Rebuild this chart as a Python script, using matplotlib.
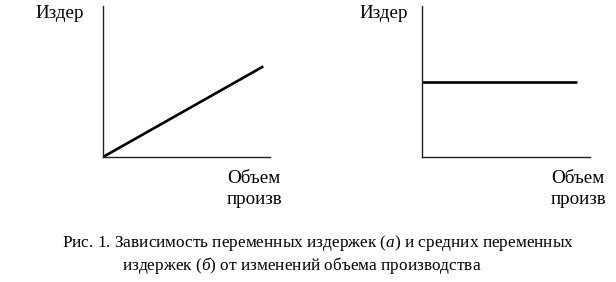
import matplotlib
matplotlib.use("Agg")
import matplotlib.pyplot as plt

plt.rcParams['font.family'] = ['Liberation Serif', 'DejaVu Serif']
plt.rcParams['mathtext.fontset'] = 'custom'
plt.rcParams['mathtext.rm'] = 'Liberation Serif'
plt.rcParams['mathtext.it'] = 'Liberation Serif:italic'

# Data (normalized units)
x_var = [0.0, 0.96]
y_var = [0.0, 0.60]
x_avg = [0.0, 0.92]
y_avg = [0.50, 0.50]
y_label = "Издер"
x_label = "Объем\nпроизв"
caption_line1 = "Рис. 1. Зависимость переменных издержек ($\\it{а}$) и средних переменных"
caption_line2 = "издержек ($\\it{б}$) от изменений объема производства"

W, H = 616, 282
fig = plt.figure(figsize=(W / 100, H / 100), dpi=100)

def px_axes(x0, x1, ytop, ybot):
    return fig.add_axes([x0 / W, (H - ybot) / H, (x1 - x0) / W, (ybot - ytop) / H])

axes = [px_axes(103, 270, 6, 157), px_axes(422, 590, 6, 157)]
series = [(x_var, y_var), (x_avg, y_avg)]
for ax, (xs, ys) in zip(axes, series):
    ax.set_xlim(0, 1)
    ax.set_ylim(0, 1)
    ax.plot(xs, ys, color='black', lw=1.9, solid_capstyle='butt')
    for s in ['top', 'right']:
        ax.spines[s].set_visible(False)
    for s in ['left', 'bottom']:
        ax.spines[s].set_linewidth(1.0)
        ax.spines[s].set_color('#222222')
    ax.set_xticks([])
    ax.set_yticks([])
    ax.patch.set_alpha(0)

def ftext(x, y, s, **kw):
    fig.text(x / W, (H - y) / H, s, **kw)

ftext(35, 14, y_label, fontsize=13.7, va='center', ha='left')
ftext(359, 14, y_label, fontsize=13.7, va='center', ha='left')
ftext(227, 189, x_label, fontsize=13.7, va='center', ha='left', linespacing=1.25)
ftext(551, 189, x_label, fontsize=13.7, va='center', ha='left', linespacing=1.25)

ftext(62, 243, caption_line1, fontsize=12.4, va='center', ha='left')
ftext(122, 265, caption_line2, fontsize=12.4, va='center', ha='left')

fig.savefig("out.png", dpi=100)
